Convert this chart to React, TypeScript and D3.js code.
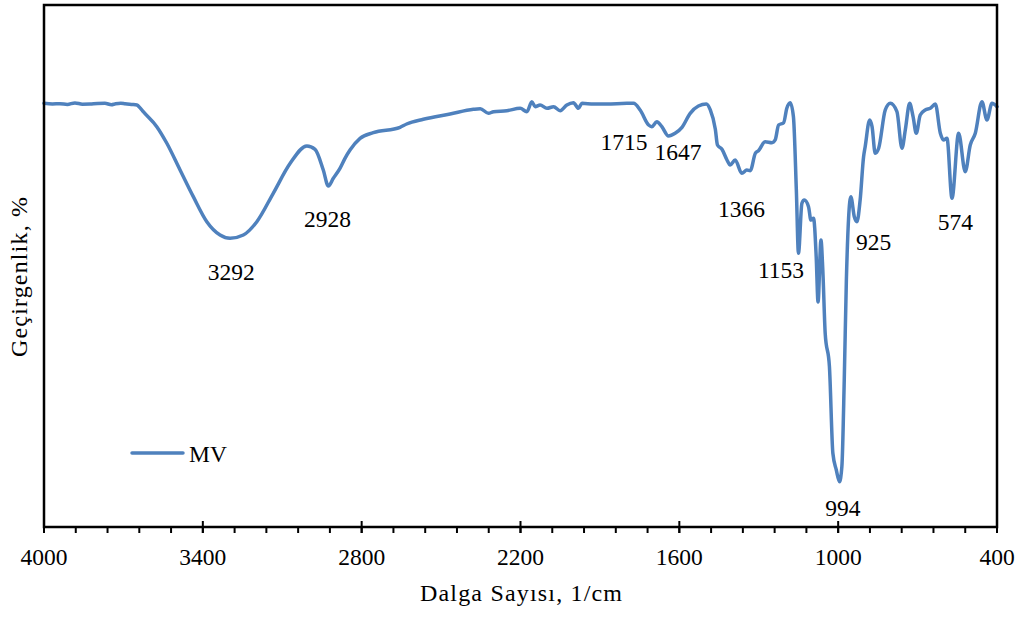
import React from "react";
import * as d3 from "d3";

// FTIR spectrum of sample MV: wavenumber (1/cm) and transmittance (%)
const wavenumbers = [
  4000, 3968, 3940, 3912, 3883, 3855, 3826, 3798, 3770, 3745, 3732, 3710, 3694, 3670, 3649, 3637,
  3625, 3574, 3536, 3486, 3436, 3385, 3335, 3297, 3247, 3196, 3134, 3070, 3007, 2976, 2945, 2926,
  2907, 2882, 2863, 2844, 2806, 2756, 2655, 2630, 2567, 2466, 2378, 2352, 2321, 2302, 2252, 2201,
  2176, 2157, 2145, 2126, 2100, 2075, 2050, 2025, 2000, 1981, 1968, 1924, 1874, 1798, 1773, 1748,
  1716, 1704, 1685, 1666, 1641, 1616, 1590, 1559, 1528, 1498, 1483, 1464, 1456, 1439, 1420, 1408,
  1389, 1364, 1345, 1332, 1313, 1301, 1276, 1250, 1238, 1225, 1206, 1194, 1181, 1169, 1158, 1150,
  1137, 1128, 1112, 1103, 1093, 1083, 1076, 1065, 1058, 1049, 1033, 1020, 1007, 995, 986, 977,
  969, 952, 939, 929, 917, 904, 898, 881, 872, 860, 847, 822, 803, 778, 759, 746,
  730, 717, 705, 690, 671, 652, 633, 614, 602, 589, 570, 545, 520, 501, 482, 457,
  438, 419, 400,
];

const transmittance = [
  81.17, 81.05, 81.1, 80.95, 81.25, 81.0, 81.03, 81.15, 81.17, 80.9, 81.05, 81.2, 81.1, 80.95, 80.84, 80.3,
  79.56, 76.69, 73.51, 68.39, 63.28, 58.49, 55.94, 55.31, 55.94, 58.49, 63.93, 69.67, 72.99, 72.36, 68.39, 65.33,
  66.8, 68.72, 70.63, 72.22, 74.46, 75.54, 76.57, 77.2, 78.1, 79.12, 80.02, 80.13, 79.25, 79.56, 79.75, 80.21,
  79.56, 81.48, 80.52, 80.84, 80.21, 80.52, 79.75, 80.84, 81.28, 80.21, 81.17, 81.03, 81.03, 81.17, 81.17, 79.89,
  77.01, 76.69, 77.64, 76.69, 74.9, 75.42, 76.57, 79.25, 80.65, 81.03, 79.89, 76.21, 73.18, 72.36, 70.31, 69.35,
  70.31, 67.76, 68.39, 68.26, 71.59, 72.09, 73.81, 73.62, 74.14, 77.01, 77.45, 80.21, 81.28, 78.6, 64.56, 52.43,
  62.01, 62.64, 61.36, 58.81, 59.14, 51.78, 43.1, 54.98, 49.23, 37.11, 30.71, 14.12, 10.92, 8.68, 11.55, 28.16,
  47.32, 63.28, 59.44, 58.49, 62.64, 70.94, 72.85, 77.97, 76.69, 71.59, 72.55, 79.89, 81.17, 79.56, 72.55, 76.21,
  81.17, 78.6, 75.42, 78.93, 79.89, 80.21, 81.03, 75.42, 74.14, 74.46, 62.97, 75.42, 68.07, 73.18, 75.42, 81.48,
  77.97, 81.17, 80.52,
];

// Annotated bands and the spot each label is placed at (wavenumber, transmittance)
const peakLabels = ["3292", "2928", "1715", "1647", "1366", "1153", "925", "574", "994"];
const peakLabelWn = [3293, 2929, 1809, 1605, 1365, 1216, 866, 557, 982];
const peakLabelT = [47.3, 57.5, 72.2, 70.3, 59.4, 47.7, 53.1, 56.9, 2.1];

const xTicksMajor = [4000, 3400, 2800, 2200, 1600, 1000, 400];
const seriesName = "MV";
const xTitle = "Dalga Sayısı, 1/cm";
const yTitle = "Geçirgenlik, %";

const W = 1025;
const H = 617;
const left = 44;
const right = 997;
const top = 5;
const bottom = 527;
const lineColor = "#4F81BD";
const font = "Liberation Serif, Times New Roman, Tinos, DejaVu Serif, serif";

export default function App() {
  const x = d3.scaleLinear().domain([4000, 400]).range([left, right]);
  const y = d3.scaleLinear().domain([0, 100]).range([bottom, top]);

  const points = wavenumbers.map((w, i) => [w, transmittance[i]] as [number, number]);
  const path = d3
    .line<[number, number]>()
    .x((d) => x(d[0]))
    .y((d) => y(d[1]))
    .curve(d3.curveMonotoneX)(points) as string;

  const minorTicks = d3.range(4000, 399, -120);
  const ts = { fontFamily: font, fontSize: 23.5 };
  const titleStyle = { fontFamily: font, fontSize: 24 };

  return (
    <svg width={W} height={H} style={{ position: "absolute", left: 0, top: 0, background: "#fff" }}>
      <rect x={0} y={0} width={W} height={H} fill="#fff" />
      <path d={path} fill="none" stroke={lineColor} strokeWidth={3.5} strokeLinejoin="round" strokeLinecap="round" />

      {/* plot frame */}
      <rect x={left} y={top} width={right - left} height={bottom - top} fill="none" stroke="#000" strokeWidth={2.5} />

      {/* minor ticks point outward */}
      {minorTicks.map((t) => (
        <line key={"m" + t} x1={x(t)} x2={x(t)} y1={bottom} y2={bottom + 6} stroke="#000" strokeWidth={2} />
      ))}
      {/* major ticks cross the axis */}
      {xTicksMajor.map((t) => (
        <g key={"M" + t}>
          <line
            x1={x(t)}
            x2={x(t)}
            y1={t === 4000 || t === 400 ? bottom : bottom - 6}
            y2={bottom + 6}
            stroke="#000"
            strokeWidth={2}
          />
          <text x={x(t)} y={565} textAnchor="middle" style={ts} fill="#000">
            {t}
          </text>
        </g>
      ))}

      {peakLabels.map((lab, i) => (
        <text key={lab} x={x(peakLabelWn[i])} y={y(peakLabelT[i])} textAnchor="middle" style={ts} fill="#000">
          {lab}
        </text>
      ))}

      <text
        x={420}
        y={601}
        textLength={202}
        lengthAdjust="spacing"
        style={titleStyle}
        fill="#000"
      >
        {xTitle}
      </text>
      <text
        transform="translate(27,357) rotate(-90)"
        textLength={160}
        lengthAdjust="spacing"
        style={titleStyle}
        fill="#000"
      >
        {yTitle}
      </text>

      {/* legend */}
      <line x1={132} x2={183} y1={453} y2={453} stroke={lineColor} strokeWidth={3.5} strokeLinecap="round" />
      <text x={189} y={462} style={ts} fill="#000">
        {seriesName}
      </text>
    </svg>
  );
}
